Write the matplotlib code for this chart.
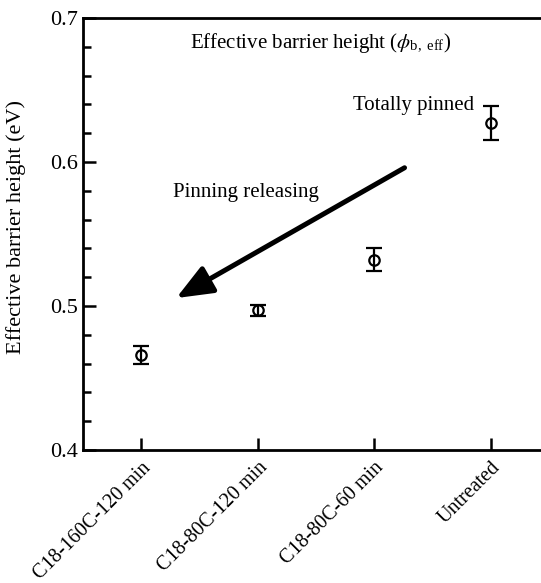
import numpy as np
import matplotlib.pyplot as plt
from matplotlib.ticker import MultipleLocator

plt.rcParams['font.family'] = ['Liberation Serif', 'DejaVu Serif']
plt.rcParams['mathtext.fontset'] = 'stix'

samples = ['C18-160C-120 min', 'C18-80C-120 min', 'C18-80C-60 min', 'Untreated']
barrier = [0.466, 0.497, 0.532, 0.627]
barrier_err = [0.006, 0.004, 0.008, 0.012]

fig = plt.figure(figsize=(5.41, 5.83), dpi=100)
ax = fig.add_axes([83/541, 133/583, 466/541, 432/583])

x = np.arange(len(samples))
ax.errorbar(x, barrier, yerr=barrier_err, fmt='o', mfc='none', mec='black',
            ms=7.5, mew=1.6, ecolor='black', elinewidth=1.6, capsize=5.5, capthick=1.6)

ax.set_xlim(-0.5, 3.5)
ax.set_ylim(0.4, 0.7)
ax.yaxis.set_major_locator(MultipleLocator(0.1))
ax.yaxis.set_minor_locator(MultipleLocator(0.02))
ax.set_xticks(x)
ax.set_xticklabels(samples, rotation=45, ha='right', rotation_mode='anchor')
ax.tick_params(axis='both', which='major', direction='in', length=9, width=1.8, labelsize=16)
ax.tick_params(axis='x', labelsize=14.5, pad=6)
ax.tick_params(axis='y', which='minor', direction='in', length=6, width=1.8)
ax.tick_params(top=False, right=False)
for s in ['left', 'bottom', 'top']:
    ax.spines[s].set_linewidth(2)
ax.spines['right'].set_visible(False)

ax.set_ylabel('Effective barrier height (eV)', fontsize=16)
ax.yaxis.set_label_coords(-0.122, 0.516)

ax.text(0.42, 0.6826, r'Effective barrier height ($\phi_{\mathregular{b,\ eff}}$)',
        fontsize=15, ha='left', va='center')
ax.text(0.275, 0.579, 'Pinning releasing', fontsize=15, ha='left', va='center')
ax.text(1.82, 0.639, 'Totally pinned', fontsize=15, ha='left', va='center')

ax.annotate('', xy=(0.3, 0.5055), xytext=(2.26, 0.596),
            arrowprops=dict(arrowstyle='-|>,head_length=2.2,head_width=0.9',
                            lw=3.6, color='black', shrinkA=0, shrinkB=0))

fig.savefig('out.png', dpi=100)
